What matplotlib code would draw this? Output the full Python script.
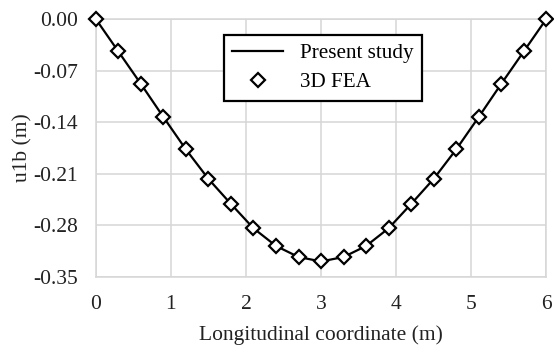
import matplotlib
matplotlib.use("Agg")
import matplotlib.pyplot as plt

# longitudinal coordinate (m) and displacement u1b (m)
x_fea = [0.0, 0.3, 0.6, 0.9, 1.2, 1.5, 1.8, 2.1, 2.4, 2.7, 3.0,
         3.3, 3.6, 3.9, 4.2, 4.5, 4.8, 5.1, 5.4, 5.7, 6.0]
u_fea = [0.000, -0.044, -0.088, -0.133, -0.177, -0.217, -0.251, -0.284, -0.308, -0.323, -0.329,
         -0.323, -0.308, -0.284, -0.251, -0.217, -0.177, -0.133, -0.088, -0.044, 0.000]
x_study = x_fea
u_study = u_fea

yticks = [0.00, -0.07, -0.14, -0.21, -0.28, -0.35]

plt.rcParams["font.family"] = ["Liberation Serif", "DejaVu Serif"]

fig = plt.figure(figsize=(5.54, 3.47), dpi=100)
ax = fig.add_axes([0.173, 0.202, 0.813, 0.743])

ax.plot(x_study, u_study, "-", color="black", lw=1.6, label="Present study",
        zorder=3, clip_on=False)
ax.plot(x_fea, u_fea, "D", ms=7.2, mfc="white", mec="black", mew=1.6,
        ls="none", label="3D FEA", zorder=4, clip_on=False)

ax.set_xlim(0, 6)
ax.set_ylim(-0.35, 0.0)
ax.set_xticks(range(7))
ax.set_yticks(yticks)
ax.set_yticklabels([f"{v:.2f}" for v in yticks])
ax.tick_params(length=0, labelsize=15.5, colors="#222222")
ax.tick_params(axis="y", pad=13)
ax.tick_params(axis="x", pad=13)
ax.grid(True, color="#d6d6d6", lw=1.1)
ax.set_axisbelow(True)
for s in ax.spines.values():
    s.set_color("#d6d6d6")
    s.set_linewidth(1.1)

ax.set_xlabel("Longitudinal coordinate (m)", fontsize=15.5, labelpad=8, color="#222222")
ax.set_ylabel("u1b (m)", fontsize=15.5, labelpad=0.5, color="#222222")

leg = ax.legend(loc="upper left", bbox_to_anchor=(0.261, 0.98), fontsize=15.2,
                frameon=True, fancybox=False, edgecolor="black", framealpha=1,
                handlelength=2.4, borderpad=0.4, labelspacing=0.45)
leg.get_frame().set_linewidth(1.6)

fig.savefig("out.png", dpi=100)
